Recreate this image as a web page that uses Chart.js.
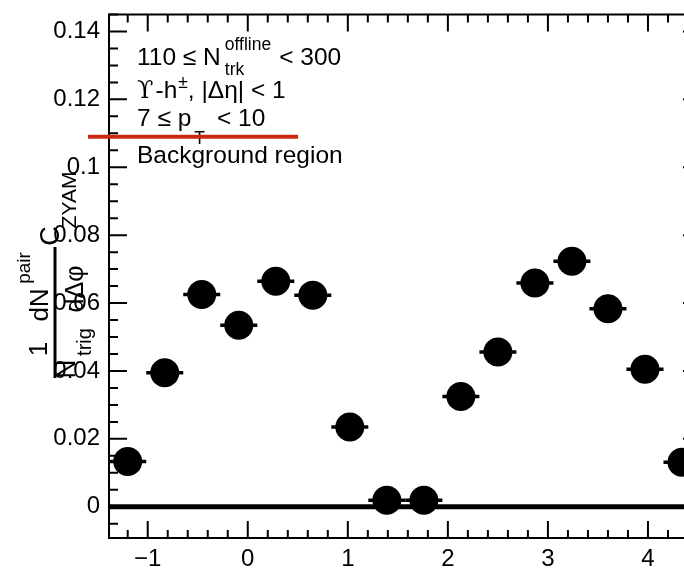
<!DOCTYPE html>
<html><head><meta charset="utf-8">
<script src="https://cdn.jsdelivr.net/npm/chart.js@4/dist/chart.umd.min.js"></script>
<style>
html,body{margin:0;padding:0;overflow:hidden;background:#fff;width:684px;height:568px}
#wrap{position:absolute;left:0;top:0;width:720px;height:568px}
</style>
</head><body>
<div id="wrap"><canvas id="c" width="720" height="568"></canvas></div>
<script>
// ---- data ----
const dPhi   = [-1.20, -0.83, -0.46, -0.09, 0.28, 0.65, 1.02, 1.39, 1.76, 2.13, 2.50, 2.87, 3.24, 3.60, 3.97, 4.34];
const pairYield = [0.0133, 0.0395, 0.0625, 0.0535, 0.0664, 0.0623, 0.0235, 0.0019, 0.0019, 0.0325, 0.0456, 0.0659, 0.0723, 0.0583, 0.0405, 0.0131];
const binHalfWidth = [0.185, 0.185, 0.185, 0.185, 0.185, 0.185, 0.185, 0.185, 0.185, 0.185, 0.185, 0.185, 0.185, 0.185, 0.185, 0.185];
const xTicks = [-1, 0, 1, 2, 3, 4];
const yTicks = [0, 0.02, 0.04, 0.06, 0.08, 0.1, 0.12, 0.14];
const xRange = [-1.387, 4.53];
const yRange = [-0.0092, 0.145];
const redLineX = [-1.597, 0.503];
const redLineY = 0.109;
const textLines = ['110 ≤ N', 'offline', 'trk', '< 300', 'ϒ', '-h', '±', ', |Δη| < 1', '7 ≤ p', 'T', '< 10', 'Background region'];

const SANS = '"Liberation Sans", Arial, Helvetica, sans-serif';

function fmtY(v){ if (Math.abs(v) < 1e-9) return '0'; return String(parseFloat(v.toFixed(3))); }
function fmtX(v){ return v < 0 ? '\u2212' + Math.abs(v) : String(v); }

function rot(ctx, text, cx, cy, size, fam){
  ctx.save();
  ctx.translate(cx, cy);
  ctx.rotate(-Math.PI/2);
  ctx.font = size + 'px ' + (fam || SANS);
  ctx.textAlign = 'center';
  ctx.textBaseline = 'middle';
  ctx.fillText(text, 0, 0);
  ctx.restore();
}

const deco = {
  id: 'deco',
  beforeDatasetsDraw(chart){
    const {ctx, chartArea: a, scales: {x, y}} = chart;
    ctx.save();
    ctx.strokeStyle = '#000';
    const y0 = y.getPixelForValue(0);
    ctx.lineWidth = 5;
    ctx.beginPath(); ctx.moveTo(a.left, y0); ctx.lineTo(a.right, y0); ctx.stroke();
    ctx.lineWidth = 3.5;
    dPhi.forEach((v, i) => {
      const py = y.getPixelForValue(pairYield[i]);
      ctx.beginPath();
      ctx.moveTo(x.getPixelForValue(v - binHalfWidth[i]), py);
      ctx.lineTo(x.getPixelForValue(v + binHalfWidth[i]), py);
      ctx.stroke();
    });
    ctx.restore();
  },
  afterDraw(chart){
    const {ctx, chartArea: a, scales: {x, y}} = chart;
    ctx.save();
    ctx.strokeStyle = '#000';
    ctx.fillStyle = '#000';
    ctx.lineWidth = 2;
    ctx.strokeRect(a.left, a.top, a.right - a.left, a.bottom - a.top);
    ctx.beginPath();
    xTicks.forEach(v => {
      const px = x.getPixelForValue(v);
      ctx.moveTo(px, a.bottom); ctx.lineTo(px, a.bottom - 17);
      ctx.moveTo(px, a.top); ctx.lineTo(px, a.top + 17);
    });
    for (let k = -7; k <= 23; k++) {
      const v = k * 0.2;
      if (k % 5 === 0 || v < xRange[0] || v > xRange[1]) continue;
      const px = x.getPixelForValue(v);
      ctx.moveTo(px, a.bottom); ctx.lineTo(px, a.bottom - 8);
      ctx.moveTo(px, a.top); ctx.lineTo(px, a.top + 8);
    }
    yTicks.forEach(v => {
      const py = y.getPixelForValue(v);
      ctx.moveTo(a.left, py); ctx.lineTo(a.left + 18, py);
      ctx.moveTo(a.right, py); ctx.lineTo(a.right - 18, py);
    });
    for (let k = -1; k <= 29; k++) {
      if (k % 4 === 0) continue;
      const v = k * 0.005;
      if (v < yRange[0] || v > yRange[1]) continue;
      const py = y.getPixelForValue(v);
      ctx.moveTo(a.left, py); ctx.lineTo(a.left + 9, py);
      ctx.moveTo(a.right, py); ctx.lineTo(a.right - 9, py);
    }
    ctx.stroke();

    // annotation text block
    const L = a.left + 28;
    const M = '24.5px ' + SANS, S = '17.5px ' + SANS;
    ctx.textAlign = 'left'; ctx.textBaseline = 'alphabetic';
    ctx.font = M; ctx.fillText(textLines[0], L, 65);
    let cx = L + ctx.measureText(textLines[0]).width + 4;
    ctx.font = S; ctx.fillText(textLines[1], cx, 50); ctx.fillText(textLines[2], cx, 75);
    cx += ctx.measureText(textLines[1]).width + 8;
    ctx.font = M; ctx.fillText(textLines[3], cx, 65);
    ctx.font = '24px "DejaVu Serif", serif'; ctx.fillText(textLines[4], L, 98);
    cx = L + ctx.measureText(textLines[4]).width + 2;
    ctx.font = M; ctx.fillText(textLines[5], cx, 98);
    cx += ctx.measureText(textLines[5]).width + 1;
    ctx.font = S; ctx.fillText(textLines[6], cx, 88);
    cx += ctx.measureText(textLines[6]).width;
    ctx.font = M; ctx.fillText(textLines[7], cx, 98);
    ctx.font = M; ctx.fillText(textLines[8], L, 126);
    cx = L + ctx.measureText(textLines[8]).width + 3;
    ctx.font = S; ctx.fillText(textLines[9], cx, 144);
    cx += ctx.measureText(textLines[9]).width + 12;
    ctx.font = M; ctx.fillText(textLines[10], cx, 126);
    ctx.font = M; ctx.fillText(textLines[11], L, 163);

    // y-axis title (rotated, ROOT-style fractions)
    rot(ctx, '1', 40, 349, 26);
    rot(ctx, 'N', 68, 369, 26);
    rot(ctx, 'trig', 85, 342, 20);
    rot(ctx, 'dN', 41, 305, 26);
    rot(ctx, 'pair', 25, 268, 19);
    rot(ctx, 'dΔφ', 76, 289, 25);
    rot(ctx, 'C', 52, 236, 27);
    rot(ctx, 'ZYAM', 70, 200, 21);
    ctx.lineWidth = 3;
    ctx.beginPath(); ctx.moveTo(55, 247); ctx.lineTo(55, 378); ctx.stroke();

    // red line
    ctx.strokeStyle = '#cc2a10';
    ctx.lineWidth = 4;
    ctx.beginPath();
    ctx.moveTo(x.getPixelForValue(redLineX[0]), y.getPixelForValue(redLineY));
    ctx.lineTo(x.getPixelForValue(redLineX[1]), y.getPixelForValue(redLineY));
    ctx.stroke();
    ctx.restore();
  }
};

new Chart(document.getElementById('c'), {
  type: 'scatter',
  data: {
    datasets: [{
      data: dPhi.map((v, i) => ({x: v, y: pairYield[i]})),
      pointRadius: 14.5,
      pointHoverRadius: 14.5,
      backgroundColor: '#000',
      borderColor: '#000',
      borderWidth: 0
    }]
  },
  options: {
    responsive: false,
    animation: false,
    devicePixelRatio: 1,
    events: [],
    layout: { padding: { left: 0, right: 19, top: 8, bottom: 0 } },
    plugins: { legend: { display: false }, tooltip: { enabled: false } },
    scales: {
      x: {
        type: 'linear', position: 'bottom',
        min: xRange[0], max: xRange[1],
        grid: { display: false, drawTicks: false, tickLength: 0 },
        border: { display: false },
        afterBuildTicks: s => { s.ticks = xTicks.map(v => ({value: v})); },
        afterFit: s => { s.height = 30; s.paddingLeft = 0; s.paddingRight = 0; },
        ticks: { color: '#000', font: { family: SANS, size: 24 }, padding: 7, maxRotation: 0, autoSkip: false, callback: v => fmtX(v) }
      },
      y: {
        type: 'linear', position: 'left',
        min: yRange[0], max: yRange[1],
        grid: { display: false, drawTicks: false, tickLength: 0 },
        border: { display: false },
        afterBuildTicks: s => { s.ticks = yTicks.map(v => ({value: v})); },
        afterFit: s => { s.width = 109; s.paddingTop = 0; s.paddingBottom = 0; },
        ticks: { color: '#000', font: { family: SANS, size: 24 }, padding: 9, autoSkip: false, callback: v => fmtY(v) }
      }
    }
  },
  plugins: [deco]
});
</script>
</body></html>
